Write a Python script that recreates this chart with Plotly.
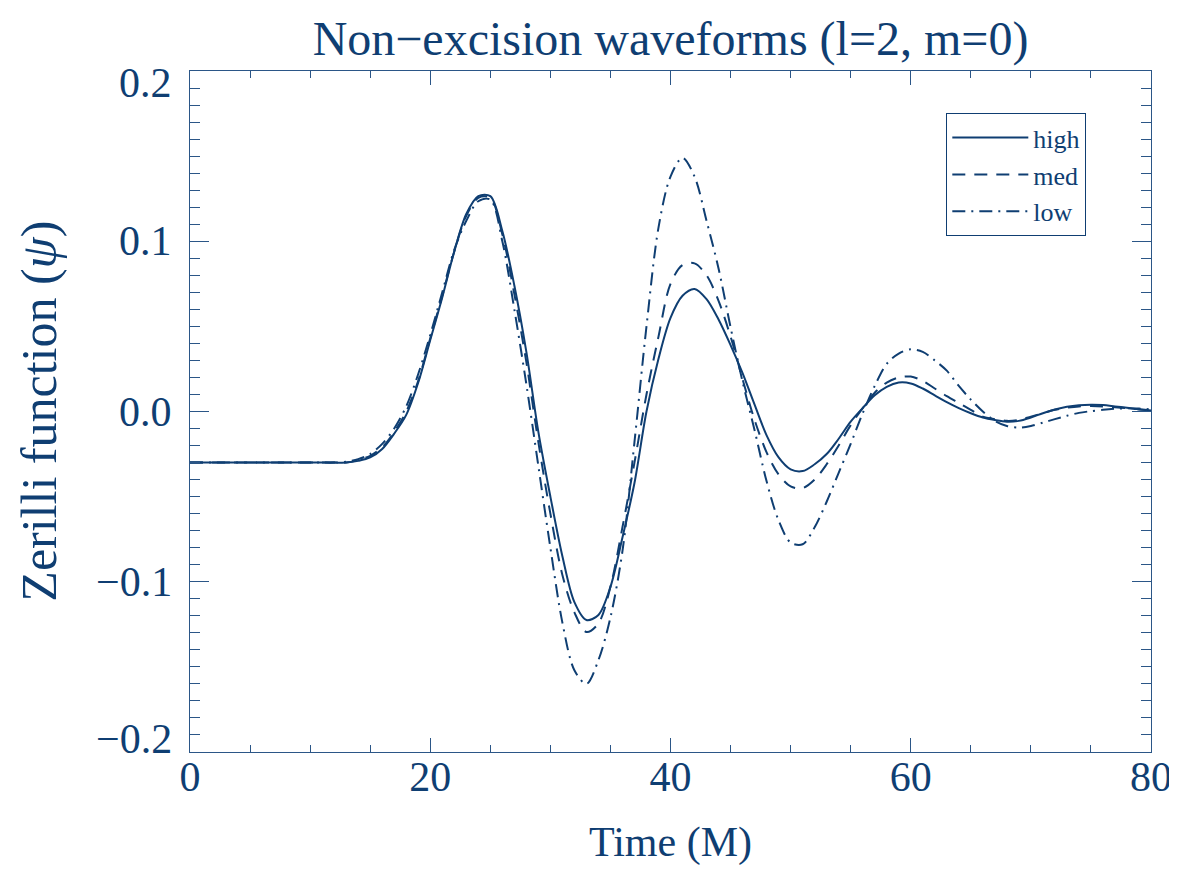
import plotly.graph_objects as go

# ---- data ----
time_M = list(range(0, 81))

psi_high = [-0.030] * 13 + [
    -0.030, -0.029, -0.027, -0.022, -0.013, -0.002, 0.017, 0.042, 0.067, 0.094,   # 13-22
    0.116, 0.1265, 0.1265, 0.106, 0.074, 0.035, -0.012, -0.050, -0.085, -0.112,    # 23-32
    -0.1225, -0.1195, -0.103, -0.074, -0.042, 0.000, 0.031, 0.055, 0.068, 0.072,   # 33-42
    0.066, 0.054, 0.039, 0.0225, 0.004, -0.014, -0.027, -0.034, -0.035, -0.031,    # 43-52
    -0.025, -0.016, -0.006, 0.002, 0.0095, 0.0145, 0.017, 0.0165, 0.0135, 0.0095,  # 53-62
    0.0055, 0.002, -0.001, -0.0035, -0.005, -0.006, -0.0055, -0.0035, -0.001, 0.0012,  # 63-72
    0.0028, 0.0037, 0.004, 0.0038, 0.003, 0.0022, 0.0013, 0.0006,                  # 73-80
]

psi_med = [-0.030] * 13 + [
    -0.030, -0.0285, -0.026, -0.021, -0.012, 0.000, 0.018, 0.043, 0.068, 0.094,
    0.115, 0.1255, 0.1255, 0.104, 0.069, 0.029, -0.018, -0.060, -0.096, -0.118,
    -0.1295, -0.1245, -0.103, -0.068, -0.030, 0.010, 0.044, 0.075, 0.086, 0.087,
    0.080, 0.065, 0.044, 0.019, -0.005, -0.024, -0.037, -0.044, -0.045, -0.040,
    -0.031, -0.020, -0.008, 0.002, 0.011, 0.017, 0.020, 0.0205, 0.018, 0.0135,
    0.009, 0.005, 0.001, -0.003, -0.0045, -0.0055, -0.005, -0.003, -0.001, 0.001,
    0.0022, 0.003, 0.0032, 0.003, 0.0025, 0.002, 0.0012, 0.0006,
]

psi_low = [-0.030] * 13 + [
    -0.0295, -0.028, -0.025, -0.019, -0.010, 0.003, 0.022, 0.045, 0.070, 0.095,
    0.112, 0.1235, 0.1245, 0.100, 0.060, 0.016, -0.032, -0.080, -0.124, -0.152,
    -0.160, -0.146, -0.121, -0.082, -0.018, 0.050, 0.108, 0.138, 0.149, 0.138,
    0.112, 0.084, 0.0495, 0.0175, -0.011, -0.041, -0.064, -0.077, -0.078, -0.068,
    -0.053, -0.036, -0.019, -0.001, 0.015, 0.028, 0.034, 0.0365, 0.035, 0.030,
    0.024, 0.015, 0.007, 0.000, -0.0055, -0.0085, -0.0095, -0.0085, -0.0065, -0.0045,
    -0.0025, -0.0008, 0.0002, 0.001, 0.0016, 0.0019, 0.0017, 0.0013,
]

series_names = ["high", "med", "low"]
series_values = [psi_high, psi_med, psi_low]
series_dash = ["solid", "13px,9px", "13px,6px,2px,6px"]

x_tick_vals = [0, 20, 40, 60, 80]
x_tick_text = ["0", "20", "40", "60", "80"]
y_tick_vals = [-0.2, -0.1, 0.0, 0.1, 0.2]
y_tick_text = ["\u22120.2", "\u22120.1", "0.0", "0.1", "0.2"]

title_text = "Non\u2212excision waveforms (l=2, m=0)"
x_title = "Time (M)"
y_title = "Zerilli function (<i>\u03c8</i>)"

# ---- style ----
INK = "#0f3e72"
AXC = "#2b5687"
FONT = "Liberation Serif"

# page body adds an 8px margin; figure sized so that the page is 1177x869
FIG_W, FIG_H = 1169, 861

fig = go.Figure()
for name, vals, dash in zip(series_names, series_values, series_dash):
    fig.add_trace(go.Scatter(
        x=time_M, y=vals, name=name, mode="lines",
        line=dict(color=INK, width=2, dash=dash, shape="spline", smoothing=0.9),
    ))

axis_common = dict(
    showline=True, linecolor=AXC, linewidth=1, mirror="ticks",
    ticks="inside", tickcolor=AXC, tickwidth=1,
    showgrid=False, zeroline=False, automargin=False,
    tickfont=dict(family=FONT, size=42, color=INK),
)

fig.update_xaxes(
    range=[0, 80], tickvals=x_tick_vals, ticktext=x_tick_text, ticklen=14,
    minor=dict(dtick=5, ticklen=7, ticks="inside", tickcolor=AXC, tickwidth=1, showgrid=False),
    ticklabelstandoff=-12,
    **axis_common,
)
fig.update_yaxes(
    range=[-0.2, 0.2], tickvals=y_tick_vals, ticktext=y_tick_text, ticklen=19,
    minor=dict(dtick=0.01, ticklen=10, ticks="inside", tickcolor=AXC, tickwidth=1, showgrid=False),
    showticklabels=False,
    **axis_common,
)

# y tick labels (IDL style: end labels pulled inside the axis span)
for v, t in zip(y_tick_vals, y_tick_text):
    shift = -12 if v == max(y_tick_vals) else (13 if v == min(y_tick_vals) else 0)
    fig.add_annotation(text=t, xref="paper", yref="y", x=0, y=v, xanchor="right",
                       yanchor="middle", xshift=-16, yshift=shift, showarrow=False,
                       font=dict(family=FONT, size=42, color=INK))

# axis titles as annotations positioned relative to the plot area
fig.add_annotation(text=x_title, xref="paper", yref="paper", x=0.5, y=-0.170,
                   xanchor="center", yanchor="bottom", showarrow=False,
                   font=dict(family=FONT, size=42, color=INK))
fig.add_annotation(text=y_title, xref="paper", yref="paper", x=-0.158, y=0.5,
                   xanchor="center", yanchor="middle", showarrow=False, textangle=-90,
                   font=dict(family=FONT, size=50, color=INK))

fig.update_layout(
    template="none",
    width=FIG_W, height=FIG_H,
    margin=dict(l=182, r=26, t=63, b=117, autoexpand=False),
    paper_bgcolor="white", plot_bgcolor="white",
    title=dict(text=title_text, xref="paper", x=0.5, xanchor="center",
               yref="container", y=0.985, yanchor="top",
               font=dict(family=FONT, size=48, color=INK)),
    legend=dict(
        x=0.787, y=0.938, xanchor="left", yanchor="top",
        bgcolor="white", bordercolor=INK, borderwidth=1,
        font=dict(family=FONT, size=26, color=INK),
        tracegroupgap=0, itemwidth=76,
    ),
    showlegend=True,
)

fig.write_html("out.html")
